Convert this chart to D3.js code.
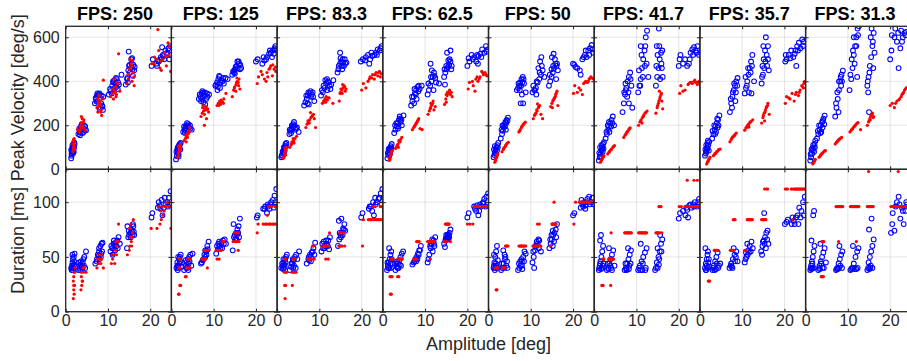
<!DOCTYPE html>
<html>
<head>
<meta charset="utf-8">
<script src="https://cdn.jsdelivr.net/npm/d3@7"></script>
<style>
body { margin: 0; background: #fff; }
svg { display: block; font-family: "Liberation Sans", Arial, Helvetica, sans-serif; }
</style>
</head>
<body>
<div id="chart"></div>
<script>
// one entry per panel (left to right)
const fpsLabels = ["250", "125", "83.3", "62.5", "50", "41.7", "35.7", "31.3"]
const ampTicks = [0, 10, 20]
const velTicks = [0, 200, 400, 600]
const durTicks = [0, 50, 100]

// peak velocity, blue circles: [amplitude deg, deg/s]
const velBlue = [
  [[1.3,50],[1.4,62],[1.5,72],[1.6,80],[1.5,90],[1.7,95],[1.8,88],[1.9,105],[2.0,100],[1.6,110],[2.1,115],[1.8,75],
   [3.0,160],[3.3,170],[3.5,180],[3.7,175],[3.9,190],[4.1,185],[4.3,200],[3.6,195],[4.0,165],[4.5,180],[3.4,155],[4.8,178],
   [6.9,300],[7.2,320],[7.4,335],[7.6,310],[7.8,340],[8.0,345],[8.2,325],[8.4,300],[8.6,290],[8.8,270],[8.0,275],[8.5,335],[7.5,345],
   [10.2,340],[10.6,355],[11.0,380],[11.3,395],[11.5,405],[11.8,390],[12.0,375],[12.3,365],[12.6,385],[11.6,370],[13.2,430],[12.1,410],
   [14.2,385],[14.5,410],[14.8,450],[15.0,470],[15.2,440],[15.4,460],[15.6,480],[15.8,455],[16.0,475],[16.3,465],[14.9,535],[15.5,500],[15.9,425],
   [20.3,470],[20.6,500],[21.5,480],[22.0,490],[22.5,510],[23.0,520],[23.3,500],[23.6,540],[24.0,530],[24.3,550],[24.7,560],[22.8,555],[21.8,495],[24.5,500],
   [1.4,72],[1.6,100],[1.9,80],[2.0,122],[1.3,88],[3.2,185],[3.8,205],[4.2,170],[4.6,195],[3.3,168],[7.1,325],[7.3,308],[8.3,280],[8.7,285],[8.9,330],
   [10.5,365],[11.2,400],[11.9,415],[12.4,395],[10.9,345],[14.6,415],[15.1,475],[15.7,505],[16.2,450],[14.7,395],[21.6,470],[22.6,500],[23.1,515],[23.9,525],[24.9,520]],
  [[1.1,45],[1.3,60],[1.5,75],[1.6,85],[1.8,95],[1.9,105],[2.0,115],[2.2,120],[1.7,70],[1.4,90],
   [2.8,170],[3.1,180],[3.3,190],[3.5,200],[3.7,210],[3.9,195],[4.2,190],[4.5,185],[3.4,175],[4.8,180],
   [6.5,320],[6.9,330],[7.2,345],[7.5,350],[7.8,335],[8.2,320],[8.5,330],[8.9,340],[7.6,305],[8.0,295],[7.0,310],
   [10.4,380],[10.8,395],[11.1,410],[11.4,420],[11.8,405],[12.1,400],[12.4,390],[12.8,415],[11.5,370],[10.9,360],[13.3,410],
   [14.4,430],[14.8,440],[15.1,455],[15.4,470],[15.7,460],[16.0,480],[16.3,475],[15.6,490],[14.9,450],[16.5,460],
   [20.0,490],[20.4,500],[21.5,480],[22.0,495],[22.6,510],[23.1,525],[23.5,530],[24.0,540],[24.4,550],[24.8,545],[23.8,510],
   [1.2,80],[1.5,100],[1.8,110],[2.1,90],[1.7,58],[3.0,195],[3.6,185],[4.0,205],[4.4,200],[3.2,165],[6.7,340],[7.3,355],[7.9,350],[8.4,345],[7.3,320],
   [10.6,385],[11.3,425],[11.6,395],[12.2,415],[11.0,375],[14.6,445],[15.2,465],[15.9,490],[16.2,455],[15.0,435],[21.8,510],[22.4,500],[23.3,540],[24.2,525],[24.6,560]],
  [[1.0,55],[1.2,65],[1.4,75],[1.5,85],[1.7,95],[1.9,105],[2.0,115],[2.2,120],[1.6,70],
   [2.9,160],[3.2,175],[3.4,185],[3.6,195],[3.8,205],[4.0,215],[3.5,200],[4.3,180],[5.1,170],[4.7,190],
   [6.4,290],[6.7,305],[7.0,320],[7.3,335],[7.6,345],[7.9,355],[8.2,340],[8.5,330],[8.8,310],[7.5,295],
   [10.4,335],[10.8,350],[11.2,370],[11.6,390],[12.0,400],[12.4,380],[12.8,385],[11.4,405],[13.3,405],[11.9,360],
   [14.3,440],[14.6,470],[14.9,480],[15.2,490],[15.5,500],[15.8,470],[16.1,480],[14.9,530],[15.4,455],[16.4,485],
   [19.8,490],[20.3,500],[21.0,510],[22.0,500],[22.5,515],[23.0,520],[23.4,530],[23.8,545],[24.3,540],[24.7,560],[21.8,480],
   [1.3,80],[1.6,100],[1.8,85],[2.1,105],[1.1,62],[3.0,180],[3.7,190],[4.1,200],[4.5,185],[3.3,165],[6.9,335],[7.4,350],[8.0,330],[8.4,350],[7.2,300],
   [10.6,360],[11.0,380],[11.8,410],[12.2,395],[12.6,365],[14.5,455],[15.0,505],[15.6,485],[16.0,500],[15.3,470],[20.8,495],[21.5,520],[22.3,530],[23.6,520],[24.5,550]],
  [[1.1,50],[1.3,65],[1.5,75],[1.6,85],[1.8,95],[1.9,105],[2.1,115],[1.4,90],
   [2.7,165],[3.0,180],[3.3,195],[3.5,210],[3.8,225],[4.0,240],[4.2,215],[4.5,200],[3.6,185],[4.9,245],
   [6.7,290],[7.0,310],[7.3,330],[7.6,345],[7.9,360],[8.2,375],[8.5,380],[8.0,320],[7.4,300],[9.2,380],
   [10.6,340],[10.9,360],[11.2,380],[11.5,400],[11.8,420],[12.1,440],[12.4,415],[11.3,480],[12.0,360],[13.3,390],
   [14.5,420],[14.8,440],[15.1,455],[15.4,465],[15.7,475],[16.0,490],[16.3,470],[15.2,530],[16.0,540],[14.7,385],
   [20.0,470],[20.3,505],[21.0,520],[21.6,510],[22.1,490],[22.6,515],[23.1,525],[23.5,545],[24.0,530],[24.4,560],[24.8,545],[22.5,480],
   [1.2,75],[1.5,95],[1.7,70],[2.0,100],[1.9,85],[2.9,200],[3.2,210],[3.7,195],[4.1,230],[4.4,225],[6.9,330],[7.5,365],[7.8,340],[8.4,355],[8.7,365],
   [10.8,390],[11.4,420],[11.6,450],[12.2,425],[12.6,395],[14.6,455],[15.0,470],[15.5,495],[15.8,500],[16.2,455],[20.5,490],[21.3,500],[22.3,520],[23.3,510],[24.6,535]],
  [[1.2,55],[1.4,65],[1.6,80],[1.7,90],[1.9,100],[2.1,110],[2.3,120],[1.5,75],
   [2.9,140],[3.2,160],[3.4,175],[3.6,190],[3.8,205],[4.0,215],[4.3,225],[4.6,235],[3.5,200],[4.1,180],
   [6.7,360],[7.0,370],[7.3,380],[7.5,395],[7.8,410],[8.1,420],[8.4,390],[8.8,350],[7.6,300],[8.2,300],[7.9,340],
   [10.4,350],[10.8,360],[11.2,370],[11.6,395],[12.0,410],[12.4,430],[12.8,450],[11.8,460],[12.2,490],[12.5,510],[13.2,420],[11.3,340],
   [14.3,380],[14.6,400],[14.9,420],[15.2,440],[15.5,460],[15.8,480],[16.1,470],[16.4,450],[15.0,510],[15.4,525],[16.0,410],
   [20.0,480],[20.3,475],[21.0,460],[21.6,450],[22.2,500],[22.8,520],[23.2,510],[23.6,540],[24.0,550],[24.4,565],[24.8,530],[21.8,430],
   [1.3,90],[1.5,105],[1.8,70],[2.0,85],[2.2,100],[3.1,180],[3.3,200],[3.9,195],[4.2,210],[4.5,220],[7.1,390],[7.4,360],[7.7,380],[8.0,395],[8.3,410],
   [10.6,380],[11.0,360],[11.4,400],[12.1,440],[12.6,470],[14.5,430],[14.9,455],[15.3,470],[15.7,500],[16.2,480],[20.6,465],[22.5,510],[23.0,540],[23.8,520],[24.6,545]],
  [[1.1,40],[1.3,55],[1.5,70],[1.7,85],[1.9,100],[2.1,115],[2.3,123],[1.6,60],[1.8,90],
   [2.7,140],[3.0,160],[3.3,180],[3.5,195],[3.8,210],[4.1,225],[4.4,240],[3.6,170],[4.7,200],
   [6.7,260],[7.0,300],[7.3,340],[7.6,370],[7.9,400],[8.2,420],[8.5,440],[8.8,380],[8.2,300],[7.5,360],[9.0,280],
   [10.4,350],[10.7,380],[11.0,410],[11.3,460],[11.6,500],[11.9,540],[12.2,600],[12.5,630],[11.0,560],[12.0,470],[12.8,420],[10.9,380],
   [14.6,380],[14.9,420],[15.2,460],[15.5,500],[15.8,530],[16.0,460],[15.3,640],[14.8,560],[16.2,420],[15.6,410],
   [20.0,470],[20.4,520],[21.5,500],[22.0,470],[22.4,480],[22.8,530],[23.2,545],[23.6,555],[24.0,540],[24.4,560],[24.8,520],
   [1.2,75],[1.4,100],[1.7,110],[2.0,80],[2.2,95],[2.9,170],[3.2,200],[3.5,215],[4.0,195],[4.3,210],[7.1,350],[7.4,390],[7.8,330],[8.1,350],[8.6,410],
   [10.6,450],[11.2,520],[11.5,420],[12.1,560],[12.4,480],[14.7,470],[15.0,520],[15.4,560],[15.9,480],[16.1,540],[20.2,500],[21.0,480],[22.6,500],[23.4,520],[24.2,530]],
  [[1.2,62],[1.4,72],[1.6,85],[1.8,95],[2.0,110],[2.2,125],[1.5,80],[1.9,130],
   [2.9,140],[3.2,160],[3.5,180],[3.7,195],[4.0,210],[4.3,225],[4.6,245],[3.8,170],[4.2,190],
   [7.1,260],[7.4,300],[7.7,330],[8.0,360],[8.3,380],[8.6,400],[8.9,415],[7.6,280],[8.4,310],
   [10.6,345],[10.9,370],[11.2,400],[11.5,430],[11.8,460],[12.1,490],[12.4,520],[12.8,400],[11.6,350],[12.2,345],
   [14.6,390],[14.9,430],[15.2,460],[15.5,490],[15.8,520],[16.1,500],[15.0,560],[15.6,600],[16.3,450],[14.8,470],
   [20.2,490],[20.5,500],[21.0,520],[21.6,540],[22.1,510],[22.6,540],[23.0,560],[23.4,575],[23.8,550],[24.2,590],[24.6,580],[22.8,470],
   [1.3,90],[1.5,110],[1.7,100],[2.1,85],[1.8,120],[3.0,175],[3.4,200],[3.6,160],[4.1,230],[4.4,200],[7.3,320],[7.8,350],[8.1,390],[8.5,350],[8.8,380],
   [10.8,420],[11.1,380],[11.4,460],[12.0,440],[12.3,470],[14.7,420],[15.1,500],[15.4,540],[15.9,470],[16.1,560],[20.3,520],[21.4,505],[22.4,525],[23.2,540],[24.4,560]],
  [[1.1,40],[1.3,55],[1.5,70],[1.7,85],[1.9,100],[2.1,115],[2.3,130],[1.6,95],
   [2.7,140],[3.0,160],[3.3,180],[3.6,200],[3.9,215],[4.2,230],[4.5,244],[3.7,170],[4.0,190],
   [7.0,240],[7.3,280],[7.6,320],[7.9,360],[8.2,400],[8.5,430],[8.8,448],[7.8,260],[8.4,380],
   [10.4,360],[10.8,410],[11.1,460],[11.4,520],[11.7,560],[12.0,600],[12.3,640],[12.6,650],[11.4,600],[10.9,500],[12.2,420],
   [14.6,380],[14.9,420],[15.2,470],[15.5,510],[15.8,560],[16.1,620],[15.6,640],[14.8,350],[15.0,260],[16.3,530],
   [20.0,500],[20.4,610],[21.2,640],[21.6,580],[22.0,460],[22.6,630],[23.0,600],[23.4,620],[23.8,625],[22.4,550],
   [1.2,70],[1.4,90],[1.8,110],[2.0,80],[2.2,100],[2.9,175],[3.2,200],[3.5,165],[4.1,220],[4.4,205],[7.2,300],[7.5,350],[7.9,400],[8.3,420],[8.6,400],
   [10.6,430],[11.2,540],[11.6,480],[12.0,560],[12.4,610],[14.7,400],[15.1,440],[15.4,600],[15.9,580],[16.0,460],[20.3,540],[21.0,600],[21.9,620],[22.8,580],[23.6,610]]
]

// peak velocity, red dots
const velRed = [
  [[1.7,80],[1.8,95],[1.9,110],[2.0,120],[1.8,130],[2.0,140],[1.9,100],[2.1,90],
   [3.2,170],[3.5,180],[3.8,195],[4.0,200],[4.2,215],[3.9,230],[3.7,240],[4.4,185],[2.8,180],[4.6,175],
   [7.4,280],[7.6,260],[7.8,300],[8.0,310],[8.2,290],[8.4,270],[8.5,245],[8.8,320],[8.9,405],[7.9,335],
   [10.6,330],[11.0,345],[11.3,320],[11.5,360],[11.8,375],[12.0,340],[12.3,390],[12.5,525],[11.4,410],[12.8,355],
   [14.5,390],[14.8,410],[15.0,430],[15.3,460],[15.5,480],[15.7,400],[16.0,440],[16.2,380],[15.2,500],[15.8,495],
   [20.4,480],[21.0,510],[21.8,635],[22.3,460],[22.6,450],[23.0,500],[23.4,530],[23.8,470],[24.2,575],[24.6,560],[22.0,540],[24.8,445],
   [1.8,115],[2.0,100],[1.9,135],[3.4,195],[3.6,210],[4.1,190],[4.3,225],[7.7,285],[8.1,300],[8.3,260],[7.6,320],[11.1,365],[11.7,350],[12.1,395],[11.9,330],
   [14.7,430],[15.1,455],[15.6,470],[16.1,420],[20.8,480],[21.5,500],[22.5,490],[23.6,515],[24.4,520]],
  [[1.5,55],[1.7,65],[1.8,80],[1.9,90],[2.0,100],[2.1,110],[1.6,72],[2.2,95],
   [3.0,130],[3.3,140],[3.6,150],[3.9,165],[4.1,175],[4.3,190],[3.5,125],[4.0,160],
   [7.0,240],[7.3,255],[7.6,265],[7.9,275],[8.2,285],[8.5,270],[8.8,260],[7.8,200],[8.3,230],[7.5,290],
   [10.8,290],[11.1,300],[11.4,310],[11.8,315],[12.1,305],[12.4,320],[12.9,345],[11.6,295],
   [14.4,330],[14.7,360],[15.0,375],[15.3,385],[15.6,400],[15.9,380],[16.2,365],[15.5,415],[15.2,355],
   [20.3,390],[20.6,420],[21.5,430],[22.0,410],[22.6,440],[23.1,455],[23.5,470],[23.9,425],[24.3,455],[24.7,445],[22.4,400],
   [1.8,95],[2.0,85],[1.7,105],[3.4,155],[3.8,145],[4.2,170],[7.4,280],[7.8,250],[8.0,270],[8.6,275],[11.2,290],[11.5,305],[12.3,300],
   [14.9,370],[15.4,395],[15.8,395],[16.0,410],[21.2,445],[22.8,420],[23.3,460],[24.0,475],[24.6,465]],
  [[1.5,50],[1.7,60],[1.8,70],[1.9,80],[2.0,90],[2.2,100],[1.6,55],
   [3.0,100],[3.3,110],[3.6,120],[3.9,130],[4.2,140],[4.6,150],[3.5,125],
   [6.8,190],[7.1,205],[7.4,215],[7.7,225],[8.0,235],[8.4,245],[8.8,230],[9.1,190],[7.9,258],
   [10.7,300],[11.0,310],[11.3,320],[11.6,330],[11.9,315],[12.3,325],[13.2,300],[11.5,305],
   [14.7,310],[15.0,350],[15.3,360],[15.6,370],[16.0,375],[16.3,365],[15.5,385],[14.9,345],
   [20.0,360],[20.4,390],[21.5,400],[22.0,420],[22.6,430],[23.0,410],[23.4,440],[23.8,425],[24.2,445],[24.6,435],[21.0,370],
   [1.8,75],[2.0,65],[1.9,95],[3.4,115],[3.8,140],[4.0,120],[7.3,220],[7.6,210],[8.2,240],[8.6,250],[11.1,305],[11.4,315],[12.0,325],
   [15.1,365],[15.4,345],[15.8,380],[16.1,355],[21.8,410],[22.4,415],[23.2,430],[24.0,440],[24.4,420]],
  [[1.5,40],[1.6,50],[1.8,60],[1.9,70],[2.0,80],[2.2,85],[1.7,45],
   [3.0,95],[3.3,105],[3.6,115],[3.9,125],[4.2,135],[4.5,145],[3.7,100],
   [7.0,180],[7.3,190],[7.6,200],[7.9,210],[8.2,220],[8.5,230],[8.8,185],[9.3,180],
   [10.7,250],[11.0,265],[11.3,280],[11.6,295],[11.9,310],[12.1,270],[11.4,300],[12.4,285],
   [14.6,295],[14.9,320],[15.2,335],[15.5,345],[15.8,360],[16.2,350],[15.0,305],[16.4,330],
   [20.2,365],[20.5,395],[21.4,380],[22.0,410],[22.5,400],[23.0,420],[23.4,445],[23.8,430],[24.2,440],[24.6,425],[21.8,355],
   [1.8,55],[2.0,70],[1.9,65],[3.5,110],[3.8,130],[4.1,125],[7.5,195],[7.8,205],[8.1,215],[8.4,225],[11.2,275],[11.5,290],[11.8,300],
   [15.0,340],[15.3,350],[15.7,355],[16.0,340],[21.2,400],[22.3,420],[22.8,410],[23.6,440],[24.4,430]],
  [[1.5,32],[1.7,40],[1.8,50],[2.0,60],[2.2,70],[1.6,45],
   [3.2,80],[3.5,90],[3.8,100],[4.1,110],[4.4,118],[4.7,123],
   [7.2,170],[7.5,180],[7.8,190],[8.1,200],[8.4,208],[8.7,214],
   [10.6,230],[10.9,245],[11.2,255],[11.5,265],[11.8,280],[12.1,290],[12.4,250],[12.8,230],[11.6,297],
   [14.7,285],[15.0,300],[15.3,315],[15.6,325],[15.9,340],[16.2,355],[15.1,280],[16.4,290],
   [20.1,345],[20.4,380],[21.4,370],[21.8,360],[22.5,390],[23.0,400],[23.4,395],[23.8,410],[24.2,420],[24.6,415],[22.2,340],
   [1.9,55],[2.1,65],[3.6,95],[4.0,105],[4.3,115],[7.4,175],[7.9,195],[8.3,205],[11.0,250],[11.4,270],[11.9,285],
   [15.2,310],[15.5,320],[15.8,330],[16.0,345],[21.0,350],[22.8,395],[23.6,400],[24.0,415],[24.8,410]],
  [[1.5,32],[1.7,40],[1.9,48],[2.1,55],[2.3,62],
   [3.2,70],[3.5,78],[3.8,85],[4.1,92],[4.4,100],[4.8,108],
   [7.0,145],[7.3,155],[7.6,165],[7.9,172],[8.2,180],[8.5,188],
   [10.5,200],[10.8,215],[11.1,225],[11.4,235],[11.7,245],[12.0,255],[12.5,265],[11.3,210],
   [14.6,255],[14.9,280],[15.2,300],[15.5,320],[15.8,340],[16.0,310],[15.4,355],[16.2,275],
   [20.2,345],[20.5,380],[21.5,360],[22.2,385],[22.7,395],[23.2,390],[23.6,400],[24.0,395],[24.4,385],[24.8,400],
   [1.8,45],[2.2,58],[3.6,80],[4.0,90],[4.6,104],[7.5,160],[7.8,170],[8.3,185],[11.0,220],[11.6,240],[12.2,258],
   [15.0,290],[15.3,310],[15.6,330],[15.9,345],[21.0,355],[22.4,390],[23.0,395],[23.8,405],[24.6,395]],
  [[1.6,24],[1.8,32],[2.0,40],[2.2,48],[2.4,55],
   [3.2,62],[3.5,68],[3.8,75],[4.1,82],[4.4,88],[4.8,92],
   [7.1,125],[7.4,135],[7.7,145],[8.0,150],[8.3,158],[8.6,165],
   [10.6,178],[10.9,188],[11.2,198],[11.5,205],[11.8,212],[12.1,218],[12.5,225],[11.6,192],
   [14.6,210],[14.9,235],[15.2,255],[15.5,270],[15.8,285],[16.1,300],[15.3,220],[16.4,250],
   [20.2,300],[20.5,330],[21.3,320],[21.8,345],[22.3,310],[22.8,350],[23.3,335],[23.7,360],[24.1,380],[24.5,370],[24.8,400],
   [1.9,36],[2.1,44],[3.6,72],[4.0,80],[4.5,90],[7.5,140],[7.8,148],[8.2,155],[11.0,190],[11.4,200],[11.9,215],
   [15.0,245],[15.4,260],[15.7,280],[16.0,290],[21.0,325],[22.6,340],[23.5,350],[24.3,375],[24.6,390]],
  [[1.7,24],[1.9,30],[2.1,38],[2.3,45],
   [3.2,55],[3.5,62],[3.8,70],[4.1,76],[4.4,82],[4.7,85],
   [7.0,115],[7.3,122],[7.6,130],[7.9,136],[8.2,140],[8.5,145],
   [10.5,170],[10.8,178],[11.1,185],[11.4,192],[11.7,200],[12.0,206],[12.4,212],[13.0,180],
   [14.6,200],[14.9,215],[15.2,230],[15.5,245],[15.8,255],[16.1,240],[15.3,225],
   [20.0,290],[20.5,300],[21.0,280],[21.6,310],[22.2,320],[22.6,330],[23.0,345],[23.4,360],[23.8,370],
   [2.0,34],[2.2,42],[3.6,66],[4.0,74],[4.5,84],[7.5,126],[7.8,133],[8.1,138],[11.0,182],[11.6,196],[12.2,210],
   [15.0,220],[15.4,240],[15.7,250],[16.0,235],[21.3,300],[22.0,315],[22.8,340],[23.2,350],[23.6,365]]
]

// duration, blue circles: [amplitude deg, ms]
const durBlue = [
  [[1.3,40],[1.5,42],[1.6,45],[1.8,40],[2.0,43],[1.7,48],[1.9,50],[2.1,53],[1.4,38],[2.2,41],
   [3.0,38],[3.3,40],[3.5,43],[3.8,41],[4.0,45],[4.2,48],[4.4,50],[3.6,46],[4.8,55],[3.9,39],
   [7.0,44],[7.3,46],[7.6,52],[7.9,55],[8.2,60],[8.5,62],[8.0,48],[8.7,63],[7.8,51],[8.4,53],
   [10.6,55],[11.0,58],[11.3,62],[11.5,60],[11.8,63],[12.2,65],[12.5,68],[11.7,56],[12.8,62],[11.1,52],
   [14.5,58],[14.8,68],[15.0,70],[15.3,72],[15.5,75],[15.7,73],[16.0,78],[16.2,70],[14.6,78],[15.9,80],
   [20.3,86],[20.5,90],[21.8,95],[22.2,97],[22.7,102],[23.2,95],[23.6,98],[24.0,100],[24.4,104],[24.8,110],[22.9,88],
   [1.5,40],[1.7,38],[2.0,46],[1.6,52],[3.2,45],[3.4,38],[4.3,42],[4.6,40],[7.4,48],[7.9,58],[8.3,50],[8.6,55],
   [10.8,60],[11.4,65],[12.0,60],[12.3,58],[14.9,74],[15.4,68],[15.8,70],[16.1,73],[22.0,100],[22.4,94],[23.4,104],[24.2,96],[24.6,98]],
  [[1.2,40],[1.4,45],[1.6,42],[1.8,48],[2.0,50],[2.2,52],[1.5,38],[1.9,44],[2.4,41],
   [3.0,38],[3.3,42],[3.6,45],[3.9,48],[4.2,50],[4.5,52],[3.5,40],[4.1,44],[5.0,53],[4.7,42],
   [7.0,44],[7.4,47],[7.8,52],[8.2,55],[8.5,60],[8.8,64],[8.0,50],[8.6,57],
   [10.6,53],[11.0,57],[11.4,60],[11.8,63],[12.2,65],[12.6,66],[11.1,62],[12.0,58],[12.9,62],
   [14.5,56],[14.8,68],[15.0,70],[15.3,72],[15.6,75],[15.9,78],[16.2,85],[15.4,66],[14.7,80],
   [20.2,86],[20.4,88],[21.7,94],[22.2,96],[22.8,98],[23.2,94],[23.6,100],[24.0,102],[24.4,106],[24.8,112],[22.6,90],
   [1.4,42],[1.7,40],[2.1,46],[1.6,50],[3.4,47],[3.8,40],[4.3,46],[4.0,38],[7.6,48],[8.0,56],[8.3,52],[7.2,45],
   [10.8,60],[11.3,64],[11.6,58],[12.4,62],[15.1,66],[15.5,70],[15.8,72],[16.0,68],[22.0,94],[22.9,96],[23.4,98],[24.2,95],[24.6,100]],
  [[1.0,40],[1.3,42],[1.5,45],[1.7,43],[1.9,48],[2.1,50],[1.4,39],[2.3,52],[1.8,41],
   [3.0,38],[3.3,41],[3.6,44],[3.9,47],[4.2,50],[4.5,52],[3.8,40],[5.2,55],[4.8,48],
   [7.0,44],[7.4,48],[7.8,52],[8.2,54],[8.6,58],[9.0,63],[8.0,46],[7.5,50],
   [10.5,55],[10.9,58],[11.3,60],[11.7,62],[12.1,65],[12.5,68],[11.0,64],[12.3,57],
   [14.4,60],[14.7,66],[15.0,70],[15.3,72],[15.6,76],[15.9,80],[14.6,83],[16.1,74],[15.2,85],
   [19.9,86],[20.2,90],[21.7,94],[22.2,96],[22.7,100],[23.2,104],[23.6,100],[24.0,103],[24.5,108],[24.9,112],[22.9,88],
   [1.2,44],[1.6,40],[2.0,45],[1.5,48],[3.4,44],[3.7,48],[4.0,42],[4.4,40],[7.6,47],[8.0,50],[8.4,55],[8.8,52],
   [10.7,62],[11.2,58],[11.6,65],[12.0,60],[14.8,72],[15.1,68],[15.5,70],[15.8,75],[21.9,96],[22.5,92],[23.3,98],[24.2,104],[24.7,98]],
  [[1.0,38],[1.2,42],[1.4,45],[1.6,48],[1.8,52],[2.0,55],[1.3,40],[2.2,44],[1.5,58],[1.9,40],
   [3.0,38],[3.3,41],[3.6,44],[3.9,47],[4.2,50],[4.5,53],[3.5,40],[4.8,55],[4.0,43],
   [7.0,43],[7.3,45],[7.7,48],[8.0,50],[8.3,53],[8.6,56],[9.0,60],[7.9,46],
   [10.6,45],[11.0,52],[11.3,58],[11.6,62],[12.0,65],[12.4,68],[11.2,60],[12.1,62],[11.8,55],
   [14.5,62],[14.8,65],[15.0,70],[15.2,68],[15.4,67],[15.6,70],[15.8,72],[16.0,75],[14.7,59],[15.5,66],
   [20.0,86],[20.3,90],[21.8,94],[22.3,97],[22.8,92],[23.2,96],[23.6,99],[24.0,103],[24.5,105],[24.9,108],[22.6,88],
   [1.1,45],[1.5,40],[1.8,44],[2.1,48],[3.2,44],[3.4,46],[3.7,40],[4.3,42],[7.5,46],[8.2,48],[8.5,52],[8.8,56],
   [10.8,48],[11.4,62],[11.7,66],[12.2,60],[14.9,67],[15.1,66],[15.3,70],[15.7,68],[21.6,96],[22.1,92],[23.0,98],[23.8,100],[24.3,96]],
  [[1.2,40],[1.4,45],[1.6,50],[1.8,55],[2.0,60],[1.5,38],[1.9,42],[2.2,47],[1.3,52],
   [3.0,38],[3.3,40],[3.6,44],[3.9,48],[4.2,42],[4.5,40],[3.8,52],[3.5,56],
   [7.0,38],[7.3,40],[7.6,42],[7.9,46],[8.2,50],[8.5,55],[8.8,53],[8.0,39],[7.8,48],
   [10.4,45],[10.7,50],[11.0,56],[11.3,60],[11.6,62],[12.0,65],[12.4,55],[10.8,40],[11.9,58],
   [14.4,58],[14.7,62],[15.0,66],[15.3,70],[15.6,72],[15.9,75],[16.2,80],[15.2,60],[16.0,68],
   [20.0,88],[20.3,90],[21.8,95],[22.2,98],[22.6,100],[23.0,97],[23.4,103],[23.8,105],[24.3,100],[24.8,98],[22.9,94],
   [1.3,42],[1.6,40],[1.7,44],[2.1,40],[3.2,44],[3.7,40],[4.0,50],[4.4,46],[7.2,44],[7.5,46],[7.9,42],[8.4,46],
   [10.6,55],[11.1,60],[11.4,64],[11.8,66],[14.6,66],[14.9,70],[15.2,74],[15.5,64],[22.0,102],[22.4,96],[23.2,100],[24.0,98],[24.6,104]],
  [[1.1,38],[1.3,42],[1.5,46],[1.7,50],[1.9,55],[2.1,60],[1.4,65],[1.8,40],[2.2,44],[1.6,70],
   [3.0,38],[3.3,40],[3.6,44],[3.9,48],[4.2,52],[4.5,56],[3.5,58],[4.0,40],[4.8,42],
   [7.2,38],[7.5,40],[7.8,44],[8.1,48],[8.4,52],[8.7,56],[8.0,58],[7.6,39],[8.3,42],
   [10.4,38],[10.8,42],[11.2,46],[11.6,50],[12.0,54],[12.4,58],[11.0,62],[11.4,38],[12.2,40],
   [14.4,38],[14.8,45],[15.2,50],[15.5,55],[15.8,62],[16.1,66],[15.0,58],[15.6,70],[15.3,43],
   [20.0,85],[20.3,90],[21.6,88],[22.0,93],[22.5,97],[23.0,95],[23.4,98],[23.8,100],[24.3,96],[24.8,103],[22.2,86],
   [1.2,40],[1.4,44],[1.6,39],[2.0,42],[3.2,44],[3.4,39],[3.8,42],[4.2,38],[7.4,44],[7.7,38],[8.2,39],[8.6,44],
   [10.6,40],[10.9,38],[11.5,44],[12.1,38],[14.6,40],[15.0,40],[15.4,48],[15.9,55],[21.0,92],[21.8,95],[22.8,98],[23.6,96],[24.6,100]],
  [[1.2,40],[1.4,44],[1.6,48],[1.8,52],[2.0,45],[1.5,38],[2.2,41],[1.3,58],[1.9,55],
   [3.0,38],[3.3,42],[3.6,46],[3.9,50],[4.2,54],[4.5,42],[3.8,39],[4.8,44],
   [7.0,40],[7.4,44],[7.8,48],[8.2,52],[8.6,55],[8.0,58],[7.5,41],[8.9,46],
   [10.6,45],[11.0,50],[11.4,56],[11.8,60],[12.2,64],[11.2,62],[12.5,58],[10.9,54],
   [14.5,55],[14.8,60],[15.1,65],[15.4,68],[15.7,72],[16.0,74],[15.2,90],[14.7,52],[16.2,62],
   [20.1,80],[20.5,82],[21.7,80],[22.2,83],[22.7,86],[23.1,88],[23.5,95],[24.0,92],[24.4,100],[24.8,105],[23.3,80],
   [1.4,38],[1.6,42],[1.8,40],[2.1,48],[3.1,40],[3.5,38],[4.0,44],[4.3,40],[7.3,42],[7.7,40],[8.3,46],[8.5,50],
   [10.8,48],[11.3,52],[11.6,54],[12.0,55],[14.9,64],[15.3,62],[15.6,58],[15.9,66],[20.8,84],[21.9,86],[22.4,80],[23.8,86],[24.6,88]],
  [[1.1,38],[1.3,42],[1.5,46],[1.7,50],[1.9,55],[2.1,60],[1.4,65],[1.8,88],[2.0,92],[1.6,40],
   [3.0,38],[3.3,42],[3.6,46],[3.9,50],[4.2,54],[4.5,58],[3.5,62],[4.0,40],[4.8,45],
   [7.2,38],[7.5,40],[7.8,44],[8.1,48],[8.4,52],[8.7,55],[8.0,60],[7.6,39],
   [10.6,38],[11.0,40],[11.4,44],[11.8,50],[12.2,55],[12.5,58],[11.2,60],[12.0,39],
   [14.6,38],[14.9,45],[15.2,50],[15.5,55],[15.8,60],[16.1,66],[15.0,75],[15.6,85],[15.3,40],
   [20.2,72],[20.6,90],[21.0,74],[21.6,100],[22.0,105],[22.4,85],[22.8,95],[23.2,80],[23.6,92],[24.0,98],
   [1.2,40],[1.4,39],[1.6,44],[1.9,40],[3.2,40],[3.4,39],[3.7,44],[4.3,40],[7.4,39],[7.9,40],[8.2,42],[8.6,40],
   [10.8,39],[11.2,40],[11.6,39],[12.3,40],[14.8,40],[15.1,39],[15.4,42],[15.8,40],[20.5,80],[21.3,96],[22.2,98],[23.0,92],[23.8,100]]
]

// duration, red dots (quantised to the frame interval)
const durRed = [
  [[1.8,12],[2.0,16],[1.9,20],[2.1,24],[1.8,28],[2.0,36],[2.2,40],[1.9,24],
   [3.6,20],[3.8,24],[4.0,28],[3.7,32],[4.2,36],[4.4,40],[4.8,36],[3.9,28],
   [7.4,40],[7.8,44],[8.1,48],[8.4,52],[8.9,40],[8.5,48],[7.8,52],
   [10.8,44],[11.1,48],[11.4,52],[11.8,56],[12.1,60],[12.4,64],[12.5,80],[12.0,52],[11.6,44],
   [14.6,52],[15.0,56],[15.2,60],[15.5,64],[15.8,72],[16.0,84],[15.4,80],[15.7,68],[15.1,76],
   [20.2,76],[21.6,76],[22.3,80],[22.6,84],[23.0,88],[23.3,92],[23.8,96],[24.2,100],[24.6,96],[24.9,76],[22.8,96],
   [1.9,32],[2.1,36],[3.7,36],[4.1,40],[7.6,48],[8.3,44],[11.0,52],[11.9,64],[15.3,68],[15.6,60],
   [22.0,96],[22.5,92],[23.5,96],[24.0,100],[24.4,96]],
  [[1.8,16],[2.0,24],[1.9,40],[2.1,48],[1.7,16],[2.2,24],
   [3.3,32],[3.6,40],[3.9,48],[4.2,40],[3.5,32],[4.5,40],
   [7.2,48],[7.5,48],[7.8,56],[8.1,48],[8.5,40],[8.8,56],[7.9,48],
   [10.6,56],[11.0,56],[11.3,48],[11.6,56],[12.0,64],[12.4,64],[10.8,48],
   [14.6,64],[15.0,72],[15.3,64],[15.6,72],[16.0,64],[15.8,56],[15.2,72],
   [20.3,72],[20.5,80],[21.7,80],[22.2,80],[22.7,88],[23.1,96],[23.5,80],[24.0,80],[24.5,96],[24.9,96],[23.7,96],
   [2.0,40],[1.9,48],[3.7,40],[4.0,48],[4.4,48],[7.6,48],[8.0,48],[8.3,56],[11.1,56],[11.8,56],[12.2,64],
   [15.1,64],[15.5,64],[15.9,72],[22.4,80],[22.9,80],[23.3,80],[24.2,80],[24.7,80],[23.0,96]],
  [[1.9,12],[2.0,24],[1.8,24],[2.2,36],[2.0,48],[1.7,36],
   [3.6,24],[3.9,36],[4.2,48],[4.5,36],[3.5,36],
   [7.3,48],[7.7,48],[8.1,48],[8.4,60],[8.8,48],
   [10.6,60],[11.0,60],[11.4,60],[11.8,60],[12.1,48],[12.4,72],[11.5,48],
   [14.6,60],[15.0,72],[15.3,72],[15.6,72],[16.0,60],[15.2,60],
   [20.2,60],[20.4,84],[21.6,84],[22.2,84],[22.8,84],[23.2,96],[23.6,84],[24.0,84],[24.4,96],[24.8,96],[22.6,96],
   [2.1,36],[1.9,48],[3.8,48],[4.0,48],[4.3,36],[7.5,48],[7.9,48],[8.6,60],[11.2,60],[11.6,60],[12.2,60],
   [14.8,72],[15.4,60],[15.8,72],[22.0,84],[22.4,84],[23.0,84],[23.4,84],[24.2,84],[24.6,84]],
  [[1.8,16],[2.0,16],[1.9,32],[2.2,32],[2.4,48],[1.7,32],
   [3.5,32],[3.8,32],[4.0,48],[4.3,48],[4.6,48],[3.6,48],
   [7.3,48],[7.7,48],[8.0,64],[8.3,64],[8.6,64],[7.9,48],
   [10.6,64],[11.0,64],[11.4,64],[11.8,64],[12.2,64],[11.2,48],[12.0,64],
   [14.5,64],[14.8,80],[15.1,80],[15.4,80],[15.7,80],[16.0,64],[15.2,64],
   [20.0,80],[20.6,80],[21.6,96],[22.0,96],[22.5,96],[23.0,96],[23.4,96],[23.8,96],[24.3,96],[24.7,96],[21.3,80],
   [2.1,48],[1.9,48],[3.7,48],[4.1,48],[4.5,48],[7.5,48],[7.8,48],[8.2,64],[10.8,64],[11.2,64],[11.6,64],
   [15.0,80],[15.3,80],[15.6,80],[21.8,96],[22.2,96],[22.7,96],[23.2,96],[23.6,96],[24.0,96]],
  [[1.8,20],[2.0,20],[2.2,40],[2.0,40],[1.6,40],
   [3.4,40],[3.7,40],[4.0,60],[4.3,60],[4.6,60],[3.9,40],
   [7.2,60],[7.6,60],[8.0,60],[8.4,60],[8.8,60],[7.8,60],
   [10.5,60],[10.9,60],[11.3,60],[11.6,80],[12.0,80],[12.4,60],[11.8,60],
   [14.6,60],[15.0,80],[15.3,80],[15.6,80],[16.0,80],[15.5,100],[15.2,80],
   [20.2,80],[20.6,100],[21.5,100],[22.0,100],[22.5,100],[23.0,100],[23.5,100],[24.0,100],[24.5,100],[24.9,100],
   [2.1,40],[3.6,40],[3.8,40],[4.2,60],[4.5,60],[7.4,60],[7.8,60],[8.2,60],[8.6,60],[10.7,60],[11.1,60],[11.5,60],[12.2,60],
   [15.1,80],[15.4,80],[15.8,80],[21.8,100],[22.3,100],[22.8,100],[23.3,100],[23.8,100],[24.2,100],[24.7,100]],
  [[1.8,24],[2.1,24],[2.3,48],[2.0,48],
   [3.4,48],[3.7,48],[4.0,72],[4.3,48],[3.9,24],[4.6,48],
   [7.2,72],[7.6,72],[8.0,72],[8.4,72],[8.8,72],
   [10.5,72],[10.9,72],[11.3,72],[11.7,72],[12.1,72],[12.4,72],
   [14.6,72],[15.0,72],[15.3,96],[15.6,96],[16.0,72],[15.8,96],
   [20.1,96],[20.6,96],[21.5,96],[22.0,120],[22.4,96],[22.8,96],[23.2,96],[23.6,120],[24.0,96],[24.4,120],[24.8,96],
   [2.2,48],[3.6,48],[3.8,48],[4.1,48],[7.4,72],[7.8,72],[8.2,72],[8.6,72],[10.7,72],[11.1,72],[11.5,72],[11.9,72],[12.2,72],
   [14.8,72],[15.2,72],[15.5,72],[22.2,96],[22.6,96],[23.0,96],[23.4,96],[23.8,96],[24.2,96],[24.6,96]],
  [[2.0,28],[2.3,28],
   [3.4,56],[3.7,56],[4.0,56],[4.3,56],
   [7.2,56],[7.6,56],[8.0,56],[8.3,84],[7.9,84],
   [10.6,56],[11.0,56],[11.2,84],[11.6,84],[12.0,84],[12.4,84],
   [14.6,84],[15.0,84],[15.3,112],[15.6,84],[16.0,112],
   [20.2,112],[20.7,112],[21.6,112],[22.0,84],[22.4,112],[22.8,112],[23.2,112],[23.6,112],[24.0,112],[24.4,112],[24.8,112],
   [2.1,28],[3.5,56],[3.9,56],[4.1,56],[7.4,56],[7.8,56],[8.1,84],[11.4,84],[11.8,84],[12.2,84],
   [14.8,84],[15.2,84],[15.4,84],[15.8,112],[20.5,112],[21.8,112],[22.2,112],[22.6,112],[23.0,112],[23.4,112],[23.8,112],[24.2,112],[24.6,112]],
  [[3.7,32],[4.0,32],[4.2,32],[3.9,64],[4.3,64],
   [7.2,96],[7.6,96],[8.0,96],[8.4,96],[8.8,96],[7.8,64],
   [10.6,96],[11.0,96],[11.4,96],[11.8,96],[12.2,96],[12.6,96],[12.0,64],
   [14.6,96],[15.0,96],[15.4,96],[15.8,96],[14.9,128],
   [20.2,96],[20.8,96],[21.4,96],[22.0,96],[22.4,96],[22.8,96],[23.2,96],[23.6,96],[21.9,128],
   [3.8,32],[4.1,64],[7.4,96],[7.8,96],[8.2,96],[8.6,96],[10.8,96],[11.2,96],[11.6,96],[12.0,96],[12.4,96],
   [14.8,96],[15.2,96],[15.6,96],[16.0,96],[20.5,96],[21.1,96],[21.7,96],[22.2,96],[22.6,96],[23.0,96],[23.4,96],[23.8,96]]
]

const width = 907
const height = 361
const marginLeft = 65.7     // left edge of the first panel
const panelWidth = 105.7
const topY = 26.3           // top of the velocity row
const midY = 169.3          // shared edge of the two rows
const bottomY = 311.7       // bottom of the duration row
const axisColor = "#262626"

const svg = d3.select("#chart")
    .append("svg")
    .attr("width", width)
    .attr("height", height)
    .attr("viewBox", [0, 0, width, height])

svg.append("rect").attr("width", width).attr("height", height).attr("fill", "#fff")

const rows = [
    {domain: [0, 650], range: [midY, topY], ticks: velTicks, blue: velBlue, red: velRed, label: "Peak Velocity [deg/s]"},
    {domain: [0, 130], range: [bottomY, midY], ticks: durTicks, blue: durBlue, red: durRed, label: "Duration [ms]"}
]

fpsLabels.forEach((fps, i) => {
    const x0 = marginLeft + i * panelWidth
    const xScale = d3.scaleLinear([0, 25], [x0, x0 + panelWidth])

    rows.forEach((row, j) => {
        const yScale = d3.scaleLinear(row.domain, row.range)
        const g = svg.append("g")
        const clipId = `clip-${i}-${j}`

        g.append("clipPath").attr("id", clipId)
            .append("rect")
            .attr("x", x0).attr("y", row.range[1])
            .attr("width", panelWidth).attr("height", row.range[0] - row.range[1])

        // grid
        g.append("g")
            .attr("stroke", axisColor)
            .attr("stroke-opacity", 0.12)
            .attr("stroke-width", 1)
            .call(gg => gg.selectAll("line.v")
                .data(ampTicks.filter(d => d > 0))
                .join("line")
                .attr("x1", d => xScale(d)).attr("x2", d => xScale(d))
                .attr("y1", row.range[1]).attr("y2", row.range[0]))
            .call(gg => gg.selectAll("line.h")
                .data(row.ticks.filter(d => d > 0))
                .join("line")
                .attr("y1", d => yScale(d)).attr("y2", d => yScale(d))
                .attr("x1", x0).attr("x2", x0 + panelWidth))

        const pts = g.append("g").attr("clip-path", `url(#${clipId})`)

        pts.append("g")
            .attr("fill", "none")
            .attr("stroke", "#0000ff")
            .attr("stroke-width", 1.05)
            .selectAll("circle")
            .data(row.blue[i])
            .join("circle")
            .attr("cx", d => xScale(d[0]))
            .attr("cy", d => yScale(d[1]))
            .attr("r", 2.4)

        pts.append("g")
            .attr("fill", "#ff0000")
            .selectAll("circle")
            .data(row.red[i])
            .join("circle")
            .attr("cx", d => xScale(d[0]))
            .attr("cy", d => yScale(d[1]))
            .attr("r", 1.6)

        // inner ticks on all four sides
        const bottomAxis = d3.axisBottom(xScale).tickValues(ampTicks).tickSize(-3).tickPadding(3)
        if (j === 0) bottomAxis.tickFormat("")
        g.append("g")
            .attr("transform", `translate(0,${row.range[0]})`)
            .call(bottomAxis)
        g.append("g")
            .attr("transform", `translate(0,${row.range[1]})`)
            .call(d3.axisTop(xScale).tickValues(ampTicks).tickSize(-3).tickFormat(""))

        const leftAxis = d3.axisLeft(yScale).tickValues(row.ticks).tickSize(-3).tickPadding(6)
        if (i > 0) leftAxis.tickFormat("")
        g.append("g")
            .attr("transform", `translate(${x0},0)`)
            .call(leftAxis)
        g.append("g")
            .attr("transform", `translate(${x0 + panelWidth},0)`)
            .call(d3.axisRight(yScale).tickValues(row.ticks).tickSize(-3).tickFormat(""))

        g.selectAll(".domain").remove()
        g.selectAll(".tick line").attr("stroke", axisColor)
        g.selectAll(".tick text")
            .attr("fill", axisColor)
            .attr("font-size", 16)
            .attr("font-family", "Liberation Sans, Arial, Helvetica, sans-serif")

        g.append("rect")
            .attr("x", x0).attr("y", row.range[1])
            .attr("width", panelWidth).attr("height", row.range[0] - row.range[1])
            .attr("fill", "none")
            .attr("stroke", axisColor)
            .attr("stroke-width", 1.3)
    })

    svg.append("text")
        .attr("x", x0 + panelWidth / 2 - 3.5)
        .attr("y", 20)
        .attr("text-anchor", "middle")
        .attr("font-size", 18)
        .attr("font-weight", "bold")
        .attr("fill", "#000")
        .text(`FPS: ${fps}`)
})

rows.forEach(row => {
    const cy = (row.range[0] + row.range[1]) / 2
    svg.append("text")
        .attr("transform", `translate(24,${cy}) rotate(-90)`)
        .attr("text-anchor", "middle")
        .attr("font-size", 18)
        .attr("fill", axisColor)
        .text(row.label)
})

svg.append("text")
    .attr("x", marginLeft + panelWidth * 4)
    .attr("y", 350)
    .attr("text-anchor", "middle")
    .attr("font-size", 18)
    .attr("fill", axisColor)
    .text("Amplitude [deg]")
</script>
</body>
</html>
